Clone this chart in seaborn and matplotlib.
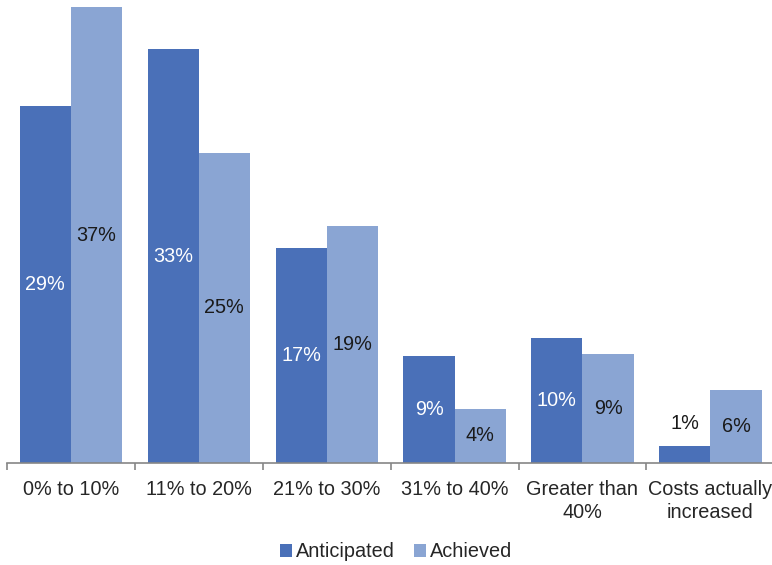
import matplotlib
import matplotlib.pyplot as plt
import numpy as np
import pandas as pd
import seaborn as sns
from matplotlib.ticker import FixedLocator

matplotlib.use("Agg")

categories = ["0% to 10%", "11% to 20%", "21% to 30%", "31% to 40%",
              "Greater than\n40%", "Costs actually\nincreased"]
anticipated = [28.9, 33.5, 17.4, 8.7, 10.1, 1.4]
achieved = [36.9, 25.1, 19.2, 4.4, 8.8, 5.9]
anticipated_labels = ["29%", "33%", "17%", "9%", "10%", "1%"]
achieved_labels = ["37%", "25%", "19%", "4%", "9%", "6%"]
series = ["Anticipated", "Achieved"]

df = pd.DataFrame({
    "category": categories * 2,
    "value": anticipated + achieved,
    "series": [series[0]] * len(categories) + [series[1]] * len(categories),
})

sns.set_style("white")
plt.rcParams["font.family"] = ["Liberation Sans", "DejaVu Sans"]

fig = plt.figure(figsize=(7.72, 5.65), dpi=100)
ax = fig.add_axes([0.009, 0.1805, 0.994, 0.807])

sns.barplot(
    data=df, x="category", y="value", hue="series",
    order=categories, hue_order=series,
    palette={"Anticipated": "#4A70B8", "Achieved": "#8AA5D3"},
    width=0.8, saturation=1, gap=0, linewidth=0, ax=ax, legend=True,
)

# small bars get their label above the bar, like the source chart
inside = [lab if v >= 3 else "" for lab, v in zip(anticipated_labels, anticipated)]
outside = [lab if v < 3 else "" for lab, v in zip(anticipated_labels, anticipated)]
ax.bar_label(ax.containers[0], labels=inside, label_type="center",
             color="white", fontsize=14.3)
ax.bar_label(ax.containers[0], labels=outside, label_type="edge", padding=9,
             color="#1a1a1a", fontsize=14.3)
ax.bar_label(ax.containers[1], labels=achieved_labels, label_type="center",
             color="#1a1a1a", fontsize=14.3)

ax.set_xlim(-0.5, len(categories) - 0.5)
ax.set_ylim(0, 36.9)
ax.set_yticks([])
ax.set_xlabel("")
ax.set_ylabel("")
for s in ["top", "right", "left"]:
    ax.spines[s].set_visible(False)
ax.spines["bottom"].set_color("#868686")
ax.spines["bottom"].set_linewidth(1.2)

ax.tick_params(axis="x", which="major", length=0, pad=12, labelsize=14.3,
               labelcolor="#262626")
ax.xaxis.set_minor_locator(FixedLocator(np.arange(-0.5, len(categories), 1.0)))
ax.tick_params(axis="x", which="minor", bottom=True, length=5, width=1.2,
               color="#868686")
for t in ax.get_xticklabels():
    t.set_linespacing(1.3)

ax.get_legend().remove()
handles, labels = ax.get_legend_handles_labels()
fig.legend(handles[:2], labels[:2], loc="lower center", bbox_to_anchor=(0.513, -0.025),
           ncol=2, frameon=False, fontsize=14.3, handlelength=0.6, handleheight=0.6,
           handletextpad=0.2, columnspacing=0.95, labelcolor="#262626")

fig.savefig("out.png", dpi=100)
plt.close(fig)
